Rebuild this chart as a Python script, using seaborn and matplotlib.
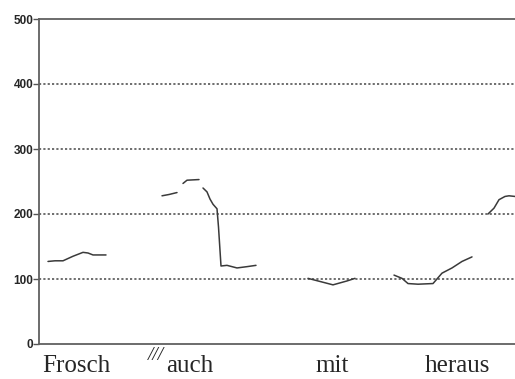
import matplotlib
matplotlib.use("Agg")
import matplotlib.pyplot as plt
import matplotlib.transforms as mtransforms
import seaborn as sns
import pandas as pd

# F0 contour segments (time units, Hz)
frosch_t = [9, 16, 24, 34, 44, 49, 54, 67]
frosch_f0 = [127, 128, 128, 135, 141, 140, 137, 137]

auch1_t = [123, 130, 138]
auch1_f0 = [228, 230, 233]
auch2_t = [144, 148, 160]
auch2_f0 = [247, 252, 253]
auch3_t = [164, 168, 171, 174, 178, 179.5, 182, 188, 198, 208, 217]
auch3_f0 = [240, 234, 223, 215, 208, 180, 120, 121, 117, 119, 121]

mit_t = [269, 279, 294, 301, 308, 316]
mit_f0 = [101, 97, 91, 94, 97, 101]

heraus_t = [355, 363, 369, 379, 394, 403, 413, 423, 433]
heraus_f0 = [106, 101, 93, 92, 93, 109, 117, 127, 134]

last_t = [449, 455, 460, 466, 470, 476]
last_f0 = [200, 209, 222, 227, 228, 227]

word_labels = ["Frosch", "auch", "mit", "heraus"]
word_pos = [37, 151, 293, 418]
y_ticks = [0, 100, 200, 300, 400, 500]

segments = [
    ("frosch", frosch_t, frosch_f0),
    ("auch1", auch1_t, auch1_f0),
    ("auch2", auch2_t, auch2_f0),
    ("auch3", auch3_t, auch3_f0),
    ("mit", mit_t, mit_f0),
    ("heraus", heraus_t, heraus_f0),
    ("last", last_t, last_f0),
]
rows = []
for name, ts, fs in segments:
    for t, f in zip(ts, fs):
        rows.append({"seg": name, "t": t, "f0": f})
df = pd.DataFrame(rows)

sns.set_style("white")
fig = plt.figure(figsize=(5.15, 3.79), dpi=100)
ax = fig.add_axes([39 / 515, 35 / 379, 1 - 39 / 515, 325 / 379])

sns.lineplot(data=df, x="t", y="f0", units="seg", estimator=None, sort=False,
             color="#3a3a3a", linewidth=1.1, ax=ax, legend=False)

ax.set_xlim(0, 476)
ax.set_ylim(0, 500)
for yv in [100, 200, 300, 400]:
    ax.axhline(yv, color="#555555", linewidth=1.2, linestyle=(0, (1.3, 1.3)), zorder=0)

ax.set_yticks(y_ticks)
ax.set_yticklabels([str(v) for v in y_ticks], fontsize=8.5, fontweight="bold",
                   family="Liberation Sans")
ax.tick_params(axis="y", length=4, width=1, color="#555555", pad=0, left=True)
ax.set_xticks(word_pos)
ax.set_xticklabels(word_labels, fontsize=18, family="Liberation Serif")
ax.tick_params(axis="x", length=0, pad=8)
ax.set_xlabel("")
ax.set_ylabel("")

trans = mtransforms.blended_transform_factory(ax.transData, ax.transAxes)
ax.text(117, -0.008, "///", transform=trans, fontsize=14, style="italic",
        family="Liberation Serif", ha="center", va="top")

for s in ["left", "bottom", "top"]:
    ax.spines[s].set_color("#606060")
    ax.spines[s].set_linewidth(1.3)
ax.spines["right"].set_visible(False)

fig.savefig("out.png", dpi=100)
